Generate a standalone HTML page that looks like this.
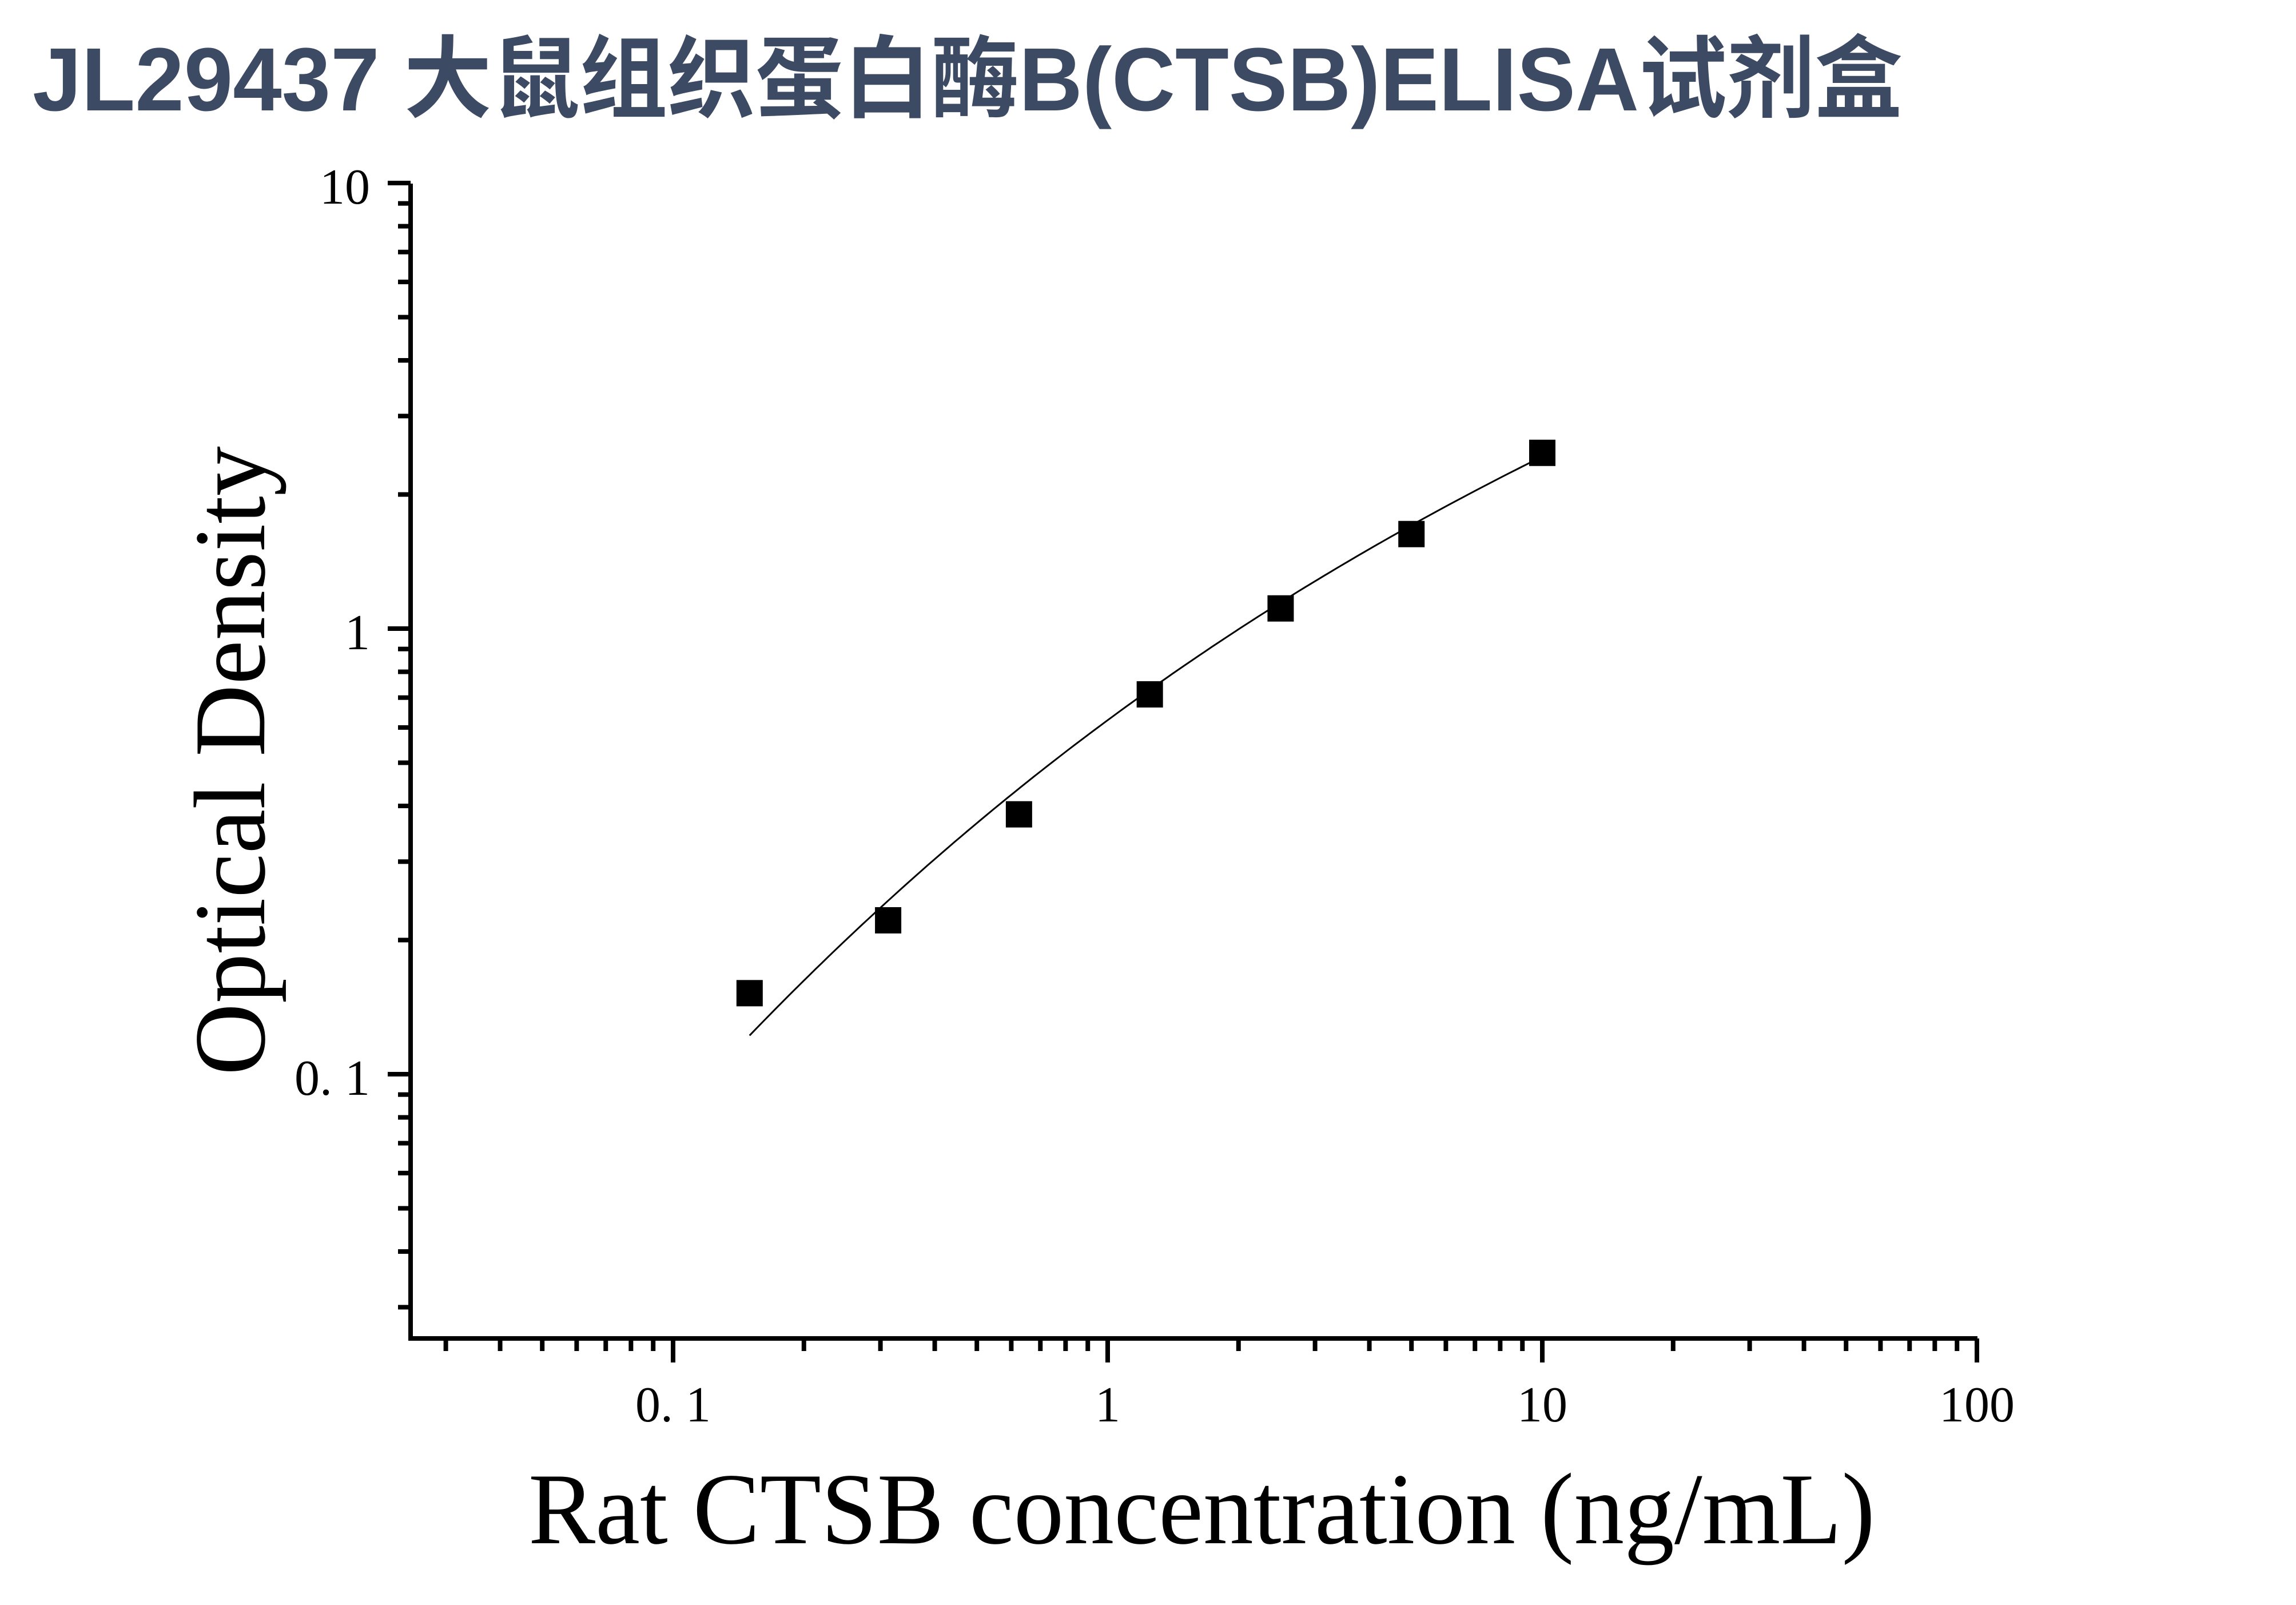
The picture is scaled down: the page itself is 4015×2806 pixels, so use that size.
<!DOCTYPE html>
<html><head><meta charset="utf-8">
<style>
html,body{margin:0;padding:0;background:#fff;}
svg{display:block;}
</style></head>
<body>
<svg id="chart" width="4015" height="2806" viewBox="0 0 4015 2806" xmlns="http://www.w3.org/2000/svg">
<rect x="0" y="0" width="4015" height="2806" fill="#fff"/>
<text x="57" y="193" textLength="3270" lengthAdjust="spacingAndGlyphs" font-family="'Liberation Sans','Noto Sans CJK SC',sans-serif" font-weight="bold" font-size="157" fill="#3d4a63">JL29437 大鼠组织蛋白酶B(CTSB)ELISA试剂盒</text>
<g id="axes"></g>
<g id="curve"></g>
<g id="points"></g>
<text transform="translate(462,1330) rotate(-90)" text-anchor="middle" textLength="1100" lengthAdjust="spacingAndGlyphs" font-family="'Liberation Serif',serif" font-size="178" fill="#000">Optical Density</text>
<text x="924" y="2698" textLength="2355" lengthAdjust="spacingAndGlyphs" font-family="'Liberation Serif',serif" font-size="178" fill="#000">Rat CTSB concentration (ng/mL)</text>
</svg>
<script>
const concentrations = [0.15, 0.3125, 0.625, 1.25, 2.5, 5, 10];
const odValues = [0.152, 0.2215, 0.383, 0.712, 1.11, 1.63, 2.48];
const fitValues = [0.122, 0.247, 0.432, 0.733, 1.155, 1.69, 2.44];
const xTickValues = [0.1, 1, 10, 100];
const xTickLabels = ["0. 1", "1", "10", "100"];
const yTickValues = [0.1, 1, 10];
const yTickLabels = ["0. 1", "1", "10"];

const NS = "http://www.w3.org/2000/svg";
const X0 = 718, XAXIS_Y = 2340, YTOP = 321, XEND = 3458;
const xMin = 0.0249, xMax = 100, yMin = 0.0255, yMax = 10;
function xs(v){ return 1177 + 760 * Math.log10(v / 0.1); }
function ys(v){ return 1099 - 779 * Math.log10(v); }
function mk(tag, attrs, parent){ const e = document.createElementNS(NS, tag); for (const k in attrs) e.setAttribute(k, attrs[k]); parent.appendChild(e); return e; }

const axes = document.getElementById('axes');
const yl = mk('path', {d:`M${X0} ${YTOP} V${XAXIS_Y} H${XEND}`, stroke:'#000', 'stroke-width':8, fill:'none', 'stroke-linejoin':'miter'}, axes);



for (let d = -2; d <= 1; d++) {
  for (let m = 1; m <= 9; m++) {
    const v = m * Math.pow(10, d);
    if (v < xMin || v > xMax * 1.0001) continue;
    const x = xs(v);
    const len = m === 1 ? 42 : 22;
    const t = mk('line', {x1:x, y1:XAXIS_Y, x2:x, y2:XAXIS_Y + len, stroke:'#000', 'stroke-width':8}, axes);
    
    
  }
}
{ const t = mk('line', {x1:xs(100), y1:XAXIS_Y, x2:xs(100), y2:XAXIS_Y+42, stroke:'#000','stroke-width':8}, axes);
  
   }
xTickValues.forEach((v, i) => {
  const t = mk('text', {x:xs(v), y:2485, 'text-anchor':'middle', 'font-family':"'Liberation Serif',serif", 'font-size':88, fill:'#000'}, axes);
  t.textContent = xTickLabels[i];
  
  
});
for (let d = -2; d <= 0; d++) {
  for (let m = 1; m <= 9; m++) {
    const v = m * Math.pow(10, d);
    if (v < yMin || v > yMax) continue;
    const y = ys(v);
    const len = m === 1 ? 40 : 22;
    const t = mk('line', {x1:X0 - len, y1:y, x2:X0, y2:y, stroke:'#000', 'stroke-width':8}, axes);
    
    
  }
}
{ const t = mk('line', {x1:X0-40, y1:ys(10), x2:X0, y2:ys(10), stroke:'#000','stroke-width':8}, axes);
  
   }
yTickValues.forEach((v, i) => {
  const t = mk('text', {x:647, y:ys(v) + 36, 'text-anchor':'end', 'font-family':"'Liberation Serif',serif", 'font-size':88, fill:'#000'}, axes);
  t.textContent = yTickLabels[i];
  
  
});

function polyfit(X, Y, deg){
  const n = deg + 1, A = [], b = [];
  for (let i = 0; i < n; i++){ A.push(new Array(n).fill(0)); b.push(0); }
  for (let k = 0; k < X.length; k++){
    for (let i = 0; i < n; i++){
      b[i] += Y[k] * Math.pow(X[k], i);
      for (let j = 0; j < n; j++) A[i][j] += Math.pow(X[k], i + j);
    }
  }
  for (let i = 0; i < n; i++){
    let p = i; for (let r = i+1; r < n; r++) if (Math.abs(A[r][i]) > Math.abs(A[p][i])) p = r;
    [A[i], A[p]] = [A[p], A[i]]; [b[i], b[p]] = [b[p], b[i]];
    for (let r = 0; r < n; r++){ if (r === i) continue; const f = A[r][i] / A[i][i];
      for (let c = i; c < n; c++) A[r][c] -= f * A[i][c]; b[r] -= f * b[i]; }
  }
  return b.map((v, i) => v / A[i][i]);
}
const lx = concentrations.map(Math.log10), ly = fitValues.map(Math.log10);
const coef = polyfit(lx, ly, 3);
let dstr = '';
const N = 120;
for (let i = 0; i <= N; i++){
  const u = lx[0] + (lx[lx.length-1] - lx[0]) * i / N;
  let v = 0; coef.forEach((c, k) => v += c * Math.pow(u, k));
  const px = xs(Math.pow(10, u)), py = ys(Math.pow(10, v));
  dstr += (i ? ' L' : 'M') + px.toFixed(1) + ' ' + py.toFixed(1);
}
const cv = mk('path', {d:dstr, stroke:'#000', 'stroke-width':3, fill:'none'}, document.getElementById('curve'));



const pg = document.getElementById('points');
concentrations.forEach((c, i) => {
  const r = mk('rect', {x:xs(c) - 23, y:ys(odValues[i]) - 23, width:46, height:46, fill:'#000'}, pg);
  
  
});
</script>
</body></html>
